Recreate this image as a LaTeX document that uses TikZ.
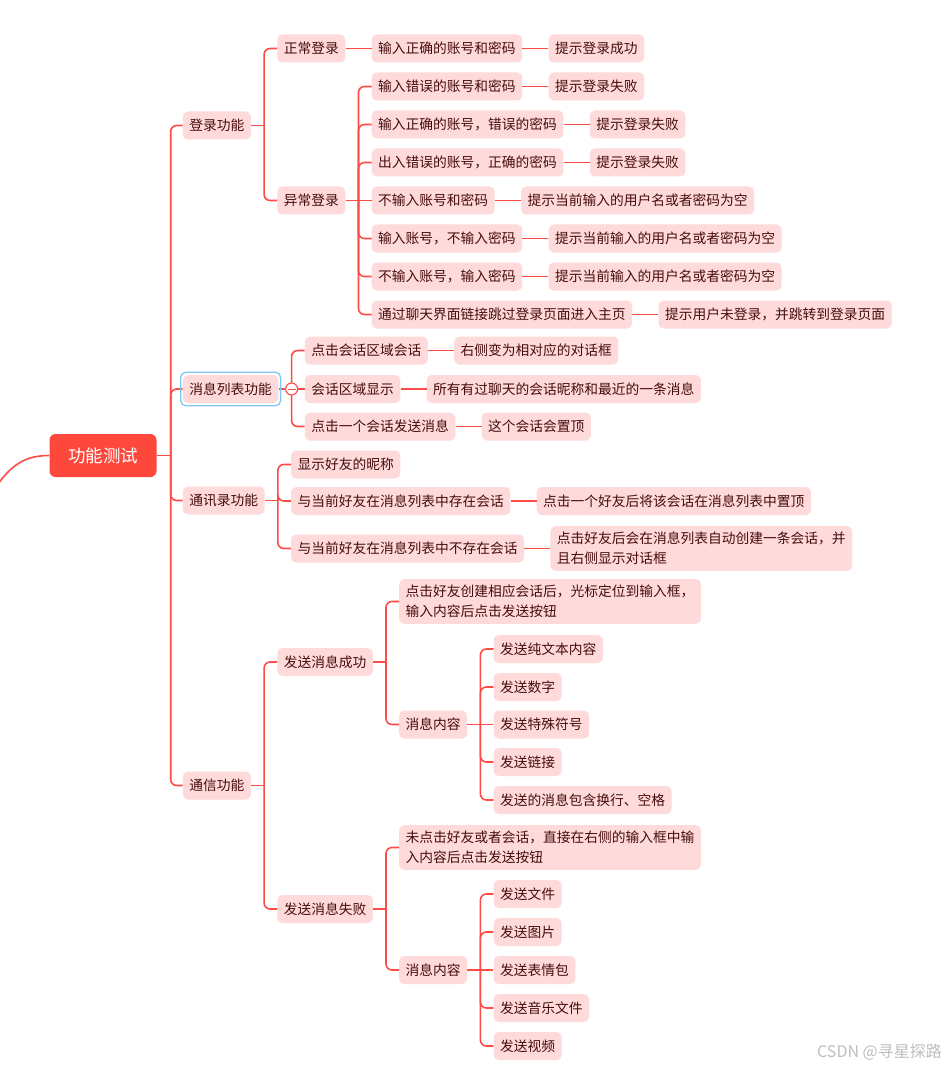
\documentclass[tikz,border=0pt]{standalone}
\usepackage{fontspec}
\setmainfont{Noto Sans CJK SC}
\usetikzlibrary{calc}
\definecolor{linered}{RGB}{255,75,70}
\definecolor{boxpink}{RGB}{255,218,218}
\definecolor{txtdark}{RGB}{70,12,12}
\definecolor{rootred}{RGB}{255,72,60}
\definecolor{selblue}{RGB}{125,200,245}
\definecolor{wmgray}{RGB}{190,190,190}
\tikzset{
  box/.style={fill=boxpink, text=txtdark, rounded corners=5pt, inner xsep=6.5pt, inner ysep=6pt,
    minimum height=28pt, font=\fontsize{13.75pt}{20pt}\selectfont, align=left, anchor=west},
  rootbox/.style={fill=rootred, text=white, rounded corners=6pt, inner xsep=18.5pt, inner ysep=0pt,
    minimum height=43pt, font=\fontsize{17.5pt}{20pt}\selectfont},
  conn/.style={draw=linered, line width=1.6pt},
  togglecirc/.style={circle, minimum size=12pt, inner sep=0pt, fill=white, draw=linered, line width=1.1pt},
  wmark/.style={text=wmgray, font=\fontsize{16pt}{18pt}\selectfont, inner sep=0pt}
}
\newcommand\kid[4]{\path let \p1=(#1.east) in node[box] (#2) at (\x1+26pt,-#3pt) {#4};}
\newcommand\fork[3][13pt]{\draw[conn,rounded corners=6pt] ($(#2.east)+(#1,0)$) |- (#3.west);}
\newcommand\stub[2][13pt]{\draw[conn] (#2.east) -- ++(#1,0);}
\newcommand\straight[2]{\draw[conn] (#1.east) -- (#2.west);}
\begin{document}
\begin{tikzpicture}
\useasboundingbox (0,0) rectangle (946pt,-1067pt);
\clip (0,0) rectangle (946pt,-1067pt);
\fill[white] (0,0) rectangle (946pt,-1067pt);

% root
\node[rootbox] (root) at (103pt,-455.5pt) {功能测试};

% level 1
\kid{root}{a1}{125.5}{登录功能}
\kid{root}{a2}{389}{消息列表功能}
\kid{root}{a3}{500.5}{通讯录功能}
\kid{root}{a4}{785.5}{通信功能}

% login
\kid{a1}{b1}{48.5}{正常登录}
\kid{a1}{b2}{200.5}{异常登录}
\kid{b1}{c1}{48.5}{输入正确的账号和密码}
\kid{c1}{d1}{48.5}{提示登录成功}
\kid{b2}{c2}{86.5}{输入错误的账号和密码}
\kid{c2}{d2}{86.5}{提示登录失败}
\kid{b2}{c3}{124.5}{输入正确的账号，错误的密码}
\kid{c3}{d3}{124.5}{提示登录失败}
\kid{b2}{c4}{162.5}{出入错误的账号，正确的密码}
\kid{c4}{d4}{162.5}{提示登录失败}
\kid{b2}{c5}{200.5}{不输入账号和密码}
\kid{c5}{d5}{200.5}{提示当前输入的用户名或者密码为空}
\kid{b2}{c6}{238.5}{输入账号，不输入密码}
\kid{c6}{d6}{238.5}{提示当前输入的用户名或者密码为空}
\kid{b2}{c7}{276.5}{不输入账号，输入密码}
\kid{c7}{d7}{276.5}{提示当前输入的用户名或者密码为空}
\kid{b2}{c8}{314.5}{通过聊天界面链接跳过登录页面进入主页}
\kid{c8}{d8}{314.5}{提示用户未登录，并跳转到登录页面}

% message list
\kid{a2}{e1}{350.5}{点击会话区域会话}
\kid{e1}{f1}{350.5}{右侧变为相对应的对话框}
\kid{a2}{e2}{389}{会话区域显示}
\kid{e2}{f2}{389}{所有有过聊天的会话昵称和最近的一条消息}
\kid{a2}{e3}{426.5}{点击一个会话发送消息}
\kid{e3}{f3}{426.5}{这个会话会置顶}

% contacts
\kid{a3}{g1}{464.5}{显示好友的昵称}
\kid{a3}{g2}{501}{与当前好友在消息列表中存在会话}
\kid{g2}{h2}{501}{点击一个好友后将该会话在消息列表中置顶}
\kid{a3}{g3}{548.5}{与当前好友在消息列表中不存在会话}
\kid{g3}{h3}{548.5}{点击好友后会在消息列表自动创建一条会话，并\\且右侧显示对话框}

% communication
\kid{a4}{i1}{662}{发送消息成功}
\kid{a4}{i2}{909}{发送消息失败}
\kid{i1}{j1}{601.5}{点击好友创建相应会话后，光标定位到输入框，\\输入内容后点击发送按钮}
\kid{i1}{j2}{724.5}{消息内容}
\kid{j2}{k1}{649}{发送纯文本内容}
\kid{j2}{k2}{687}{发送数字}
\kid{j2}{k3}{724.5}{发送特殊符号}
\kid{j2}{k4}{762}{发送链接}
\kid{j2}{k5}{800}{发送的消息包含换行、空格}
\kid{i2}{j3}{847.5}{未点击好友或者会话，直接在右侧的输入框中输\\入内容后点击发送按钮}
\kid{i2}{j4}{970}{消息内容}
\kid{j4}{m1}{894}{发送文件}
\kid{j4}{m2}{932}{发送图片}
\kid{j4}{m3}{970}{发送表情包}
\kid{j4}{m4}{1008}{发送音乐文件}
\kid{j4}{m5}{1046}{发送视频}

% connectors
\draw[conn] (-25pt,-525pt) .. controls (2pt,-468pt) and (20pt,-455.5pt) .. (root.west);
\stub[14pt]{root}
\fork[14pt]{root}{a1}
\fork[14pt]{root}{a2}
\fork[14pt]{root}{a3}
\fork[14pt]{root}{a4}

\stub{a1}
\fork{a1}{b1}
\fork{a1}{b2}
\straight{b1}{c1}
\straight{c1}{d1}
\stub{b2}
\fork{b2}{c2}
\fork{b2}{c3}
\fork{b2}{c4}
\straight{b2}{c5}
\fork{b2}{c6}
\fork{b2}{c7}
\fork{b2}{c8}
\straight{c2}{d2}
\straight{c3}{d3}
\straight{c4}{d4}
\straight{c5}{d5}
\straight{c6}{d6}
\straight{c7}{d7}
\straight{c8}{d8}

\stub{a2}
\fork{a2}{e1}
\straight{a2}{e2}
\fork{a2}{e3}
\straight{e1}{f1}
\straight{e2}{f2}
\straight{e3}{f3}

\stub{a3}
\fork{a3}{g1}
\fork{a3}{g2}
\fork{a3}{g3}
\straight{g2}{h2}
\straight{g3}{h3}

\stub{a4}
\fork{a4}{i1}
\fork{a4}{i2}
\stub{i1}
\fork{i1}{j1}
\fork{i1}{j2}
\stub{j2}
\fork{j2}{k1}
\fork{j2}{k2}
\straight{j2}{k3}
\fork{j2}{k4}
\fork{j2}{k5}
\stub{i2}
\fork{i2}{j3}
\fork{i2}{j4}
\stub{j4}
\fork{j4}{m1}
\fork{j4}{m2}
\straight{j4}{m3}
\fork{j4}{m4}
\fork{j4}{m5}

% selection frame and collapse toggle on a2
\draw[selblue, line width=1.3pt, rounded corners=5pt]
  ([shift={(-2pt,2.5pt)}]a2.north west) rectangle ([shift={(2pt,-2.5pt)}]a2.south east);
\node[togglecirc] (tog) at ($(a2.east)+(13pt,0)$) {};
\draw[linered, line width=1pt] ([xshift=-4pt]tog.center) -- ([xshift=4pt]tog.center);

% watermark
\node[wmark, anchor=east] (wm) at (942pt,-1052pt) {CSDN @寻星探路};
\end{tikzpicture}
\end{document}
